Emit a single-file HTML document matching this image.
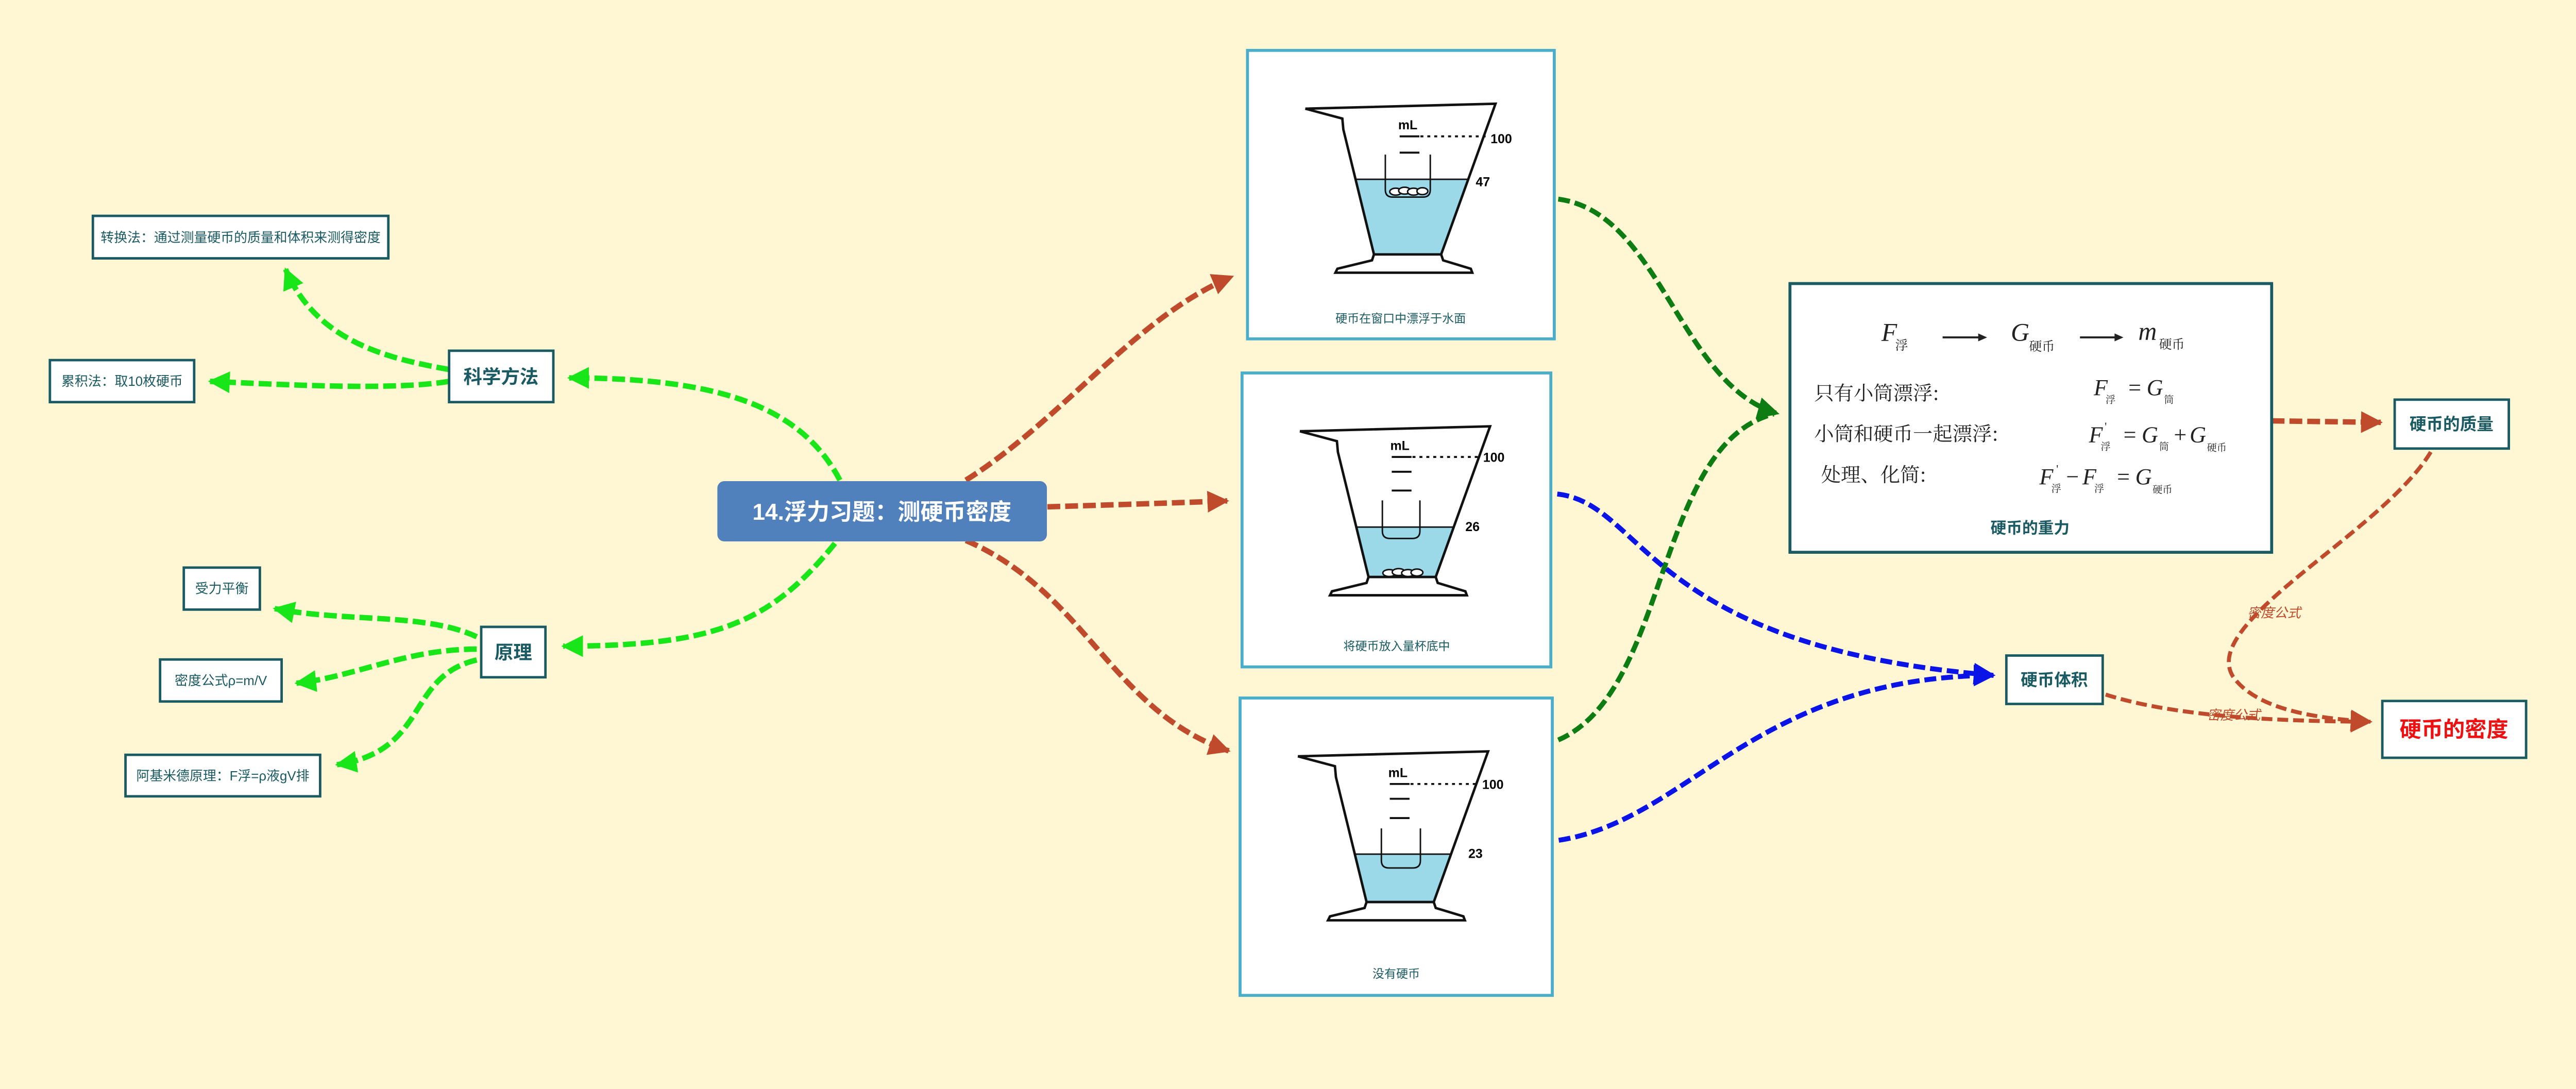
<!DOCTYPE html>
<html><head><meta charset="utf-8"><style>
html,body{margin:0;padding:0;background:#fff7d3;overflow:hidden;width:100%;height:100%;}
svg{display:block;width:100vw;height:calc(100vw * 2114 / 5214);}
.t{font-family:"Liberation Sans","Noto Sans CJK SC",sans-serif;}
</style></head><body>
<svg viewBox="0 0 5214 2114" preserveAspectRatio="none" xmlns="http://www.w3.org/2000/svg">
<defs>
<marker id="ag" markerUnits="userSpaceOnUse" markerWidth="50" markerHeight="50" refX="40" refY="22" orient="auto"><path d="M0,0 L44,22 L0,44 Z" fill="#19e619"/></marker>
<marker id="ar" markerUnits="userSpaceOnUse" markerWidth="50" markerHeight="50" refX="40" refY="22" orient="auto"><path d="M0,0 L44,22 L0,44 Z" fill="#c04a2c"/></marker>
<marker id="ad" markerUnits="userSpaceOnUse" markerWidth="50" markerHeight="50" refX="40" refY="22" orient="auto"><path d="M0,0 L44,22 L0,44 Z" fill="#0d7c12"/></marker>
<marker id="ab" markerUnits="userSpaceOnUse" markerWidth="50" markerHeight="50" refX="40" refY="22" orient="auto"><path d="M0,0 L44,22 L0,44 Z" fill="#0a14e6"/></marker>
</defs>
<rect width="5214" height="2114" fill="#fff7d3"/>

<g fill="none" stroke="#19e619" stroke-width="11" stroke-dasharray="26,10">
<path d="M1700,972 C1620,820 1450,765 1152,765" marker-end="url(#ag)"/>
<path d="M909,748 C780,725 640,690 578,545" marker-end="url(#ag)"/>
<path d="M909,772 C800,790 600,780 425,772" marker-end="url(#ag)"/>
<path d="M1690,1100 C1560,1260 1450,1308 1140,1308" marker-end="url(#ag)"/>
<path d="M965,1289 C860,1240 700,1260 556,1232" marker-end="url(#ag)"/>
<path d="M965,1314 C820,1314 720,1370 600,1383" marker-end="url(#ag)"/>
<path d="M965,1336 C820,1370 870,1520 682,1548" marker-end="url(#ag)"/>
</g>
<g fill="none" stroke="#c04a2c" stroke-width="11" stroke-dasharray="26,10">
<path d="M1955,972 C2150,850 2300,640 2494,560" marker-end="url(#ar)"/>
<path d="M2120,1026 C2250,1022 2380,1018 2484,1014" marker-end="url(#ar)"/>
<path d="M1955,1094 C2200,1200 2250,1440 2487,1520" marker-end="url(#ar)"/>
<path d="M4598,852 L4819,855" marker-end="url(#ar)"/>
</g>
<g fill="none" stroke="#c04a2c" stroke-width="8" stroke-dasharray="22,10">
<path d="M4920,915 C4820,1080 4450,1260 4520,1370 C4570,1440 4700,1455 4798,1461" marker-end="url(#ar)"/>
<path d="M4262,1406 C4400,1450 4600,1460 4798,1461" marker-end="url(#ar)"/>
</g>
<g fill="none" stroke="#0d7c12" stroke-width="10" stroke-dasharray="24,10">
<path d="M3154,403 C3360,430 3400,780 3598,837" marker-end="url(#ad)"/>
<path d="M3154,1498 C3380,1400 3350,900 3590,838"/>
</g>
<g fill="none" stroke="#0a14e6" stroke-width="10" stroke-dasharray="24,10">
<path d="M3152,1000 C3330,1020 3330,1310 4035,1367" marker-end="url(#ab)"/>
<path d="M3155,1701 C3420,1660 3550,1370 4035,1367" marker-end="url(#ab)"/>
</g>

<g class="t" fill="#1a5a63">
<rect x="188" y="437" width="598" height="86" fill="#fff" stroke="#1a5a63" stroke-width="5"/>
<text x="487" y="490" font-size="27" text-anchor="middle">转换法：通过测量硬币的质量和体积来测得密度</text>
<rect x="101" y="729" width="292" height="85" fill="#fff" stroke="#1a5a63" stroke-width="5"/>
<text x="247" y="781" font-size="27" text-anchor="middle">累积法：取10枚硬币</text>
<rect x="909" y="710" width="211" height="104" fill="#fff" stroke="#1a5a63" stroke-width="5"/>
<text x="1014" y="776" font-size="38" font-weight="bold" text-anchor="middle">科学方法</text>
<rect x="1452" y="974" width="667" height="122" rx="14" fill="#5081bd"/>
<text x="1785" y="1052" font-size="46" font-weight="bold" fill="#fff" text-anchor="middle">14.浮力习题：测硬币密度</text>
<rect x="372" y="1149" width="154" height="85" fill="#fff" stroke="#1a5a63" stroke-width="5"/>
<text x="449" y="1201" font-size="27" text-anchor="middle">受力平衡</text>
<rect x="974" y="1269" width="130" height="102" fill="#fff" stroke="#1a5a63" stroke-width="5"/>
<text x="1039" y="1334" font-size="38" font-weight="bold" text-anchor="middle">原理</text>
<rect x="324" y="1335" width="246" height="85" fill="#fff" stroke="#1a5a63" stroke-width="5"/>
<text x="447" y="1387" font-size="27" text-anchor="middle">密度公式ρ=m/V</text>
<rect x="254" y="1528" width="394" height="84" fill="#fff" stroke="#1a5a63" stroke-width="5"/>
<text x="451" y="1580" font-size="27" text-anchor="middle">阿基米德原理：F浮=ρ液gV排</text>
</g>

<g transform="translate(2525,102)">
<rect x="0" y="0" width="621" height="584" fill="#fff" stroke="#4aaecb" stroke-width="6"/>
<polygon points="219,261 448,261 392,413 256,413" fill="#9bd8e8"/>
<path d="M117,118 L502,108 L392,413 M117,118 L192,138 L194,160 L256,413" fill="none" stroke="#111" stroke-width="5"/>
<path d="M256,413 L392,413 L396,425 L452,442 L455,450 L178,450 L182,442 L252,425 Z" fill="#fff" stroke="#111" stroke-width="5"/>
<line x1="219" y1="261" x2="448" y2="261" stroke="#111" stroke-width="3"/>
<path d="M279,211 L279,282 Q279,297 294,297 L355,297 Q370,297 370,282 L370,211" fill="none" stroke="#111" stroke-width="3"/>
<g fill="#fff" stroke="#111" stroke-width="3"><ellipse cx="300" cy="286" rx="12" ry="7"/><ellipse cx="318" cy="284" rx="12" ry="7"/><ellipse cx="336" cy="286" rx="12" ry="7"/><ellipse cx="354" cy="285" rx="11" ry="7"/></g>
<text x="305" y="160" font-family="Liberation Sans" font-weight="bold" font-size="26">mL</text>
<line x1="308" y1="174" x2="348" y2="174" stroke="#111" stroke-width="4"/>
<line x1="350" y1="174" x2="482" y2="174" stroke="#111" stroke-width="4" stroke-dasharray="6,8"/>
<line x1="308" y1="207" x2="348" y2="207" stroke="#111" stroke-width="4"/>
<text x="492" y="188" font-family="Liberation Sans" font-weight="bold" font-size="26">100</text>
<text x="462" y="275" font-family="Liberation Sans" font-weight="bold" font-size="26">47</text>
<text x="310" y="551" class="t" font-size="24" fill="#1a5a63" text-anchor="middle">硬币在窗口中漂浮于水面</text>
</g>

<g transform="translate(2514,755)">
<rect x="0" y="0" width="625" height="595" fill="#fff" stroke="#4aaecb" stroke-width="6"/>
<polygon points="231,312 430,312 392,413 256,413" fill="#9bd8e8"/>
<path d="M117,118 L502,108 L392,413 M117,118 L192,138 L194,160 L256,413" fill="none" stroke="#111" stroke-width="5"/>
<path d="M256,413 L392,413 L396,425 L452,442 L455,450 L178,450 L182,442 L252,425 Z" fill="#fff" stroke="#111" stroke-width="5"/>
<line x1="231" y1="312" x2="430" y2="312" stroke="#111" stroke-width="3"/>
<path d="M284,258 L284,320 Q284,335 299,335 L345,335 Q360,335 360,320 L360,258" fill="none" stroke="#111" stroke-width="3"/>
<g fill="#fff" stroke="#111" stroke-width="3"><ellipse cx="298" cy="405" rx="13" ry="7"/><ellipse cx="317" cy="403" rx="13" ry="7"/><ellipse cx="336" cy="405" rx="13" ry="7"/><ellipse cx="354" cy="404" rx="12" ry="7"/></g>
<text x="300" y="156" font-family="Liberation Sans" font-weight="bold" font-size="26">mL</text>
<line x1="303" y1="170" x2="343" y2="170" stroke="#111" stroke-width="4"/>
<line x1="345" y1="170" x2="480" y2="170" stroke="#111" stroke-width="4" stroke-dasharray="6,8"/>
<line x1="303" y1="200" x2="343" y2="200" stroke="#111" stroke-width="4"/>
<line x1="303" y1="238" x2="343" y2="238" stroke="#111" stroke-width="4"/>
<text x="488" y="180" font-family="Liberation Sans" font-weight="bold" font-size="26">100</text>
<text x="452" y="320" font-family="Liberation Sans" font-weight="bold" font-size="26">26</text>
<text x="313" y="561" class="t" font-size="24" fill="#1a5a63" text-anchor="middle">将硬币放入量杯底中</text>
</g>

<g transform="translate(2510,1413)">
<rect x="0" y="0" width="632" height="602" fill="#fff" stroke="#4aaecb" stroke-width="6"/>
<polygon points="232,316 428,316 392,413 256,413" fill="#9bd8e8"/>
<path d="M117,118 L502,108 L392,413 M117,118 L192,138 L194,160 L256,413" fill="none" stroke="#111" stroke-width="5"/>
<path d="M256,413 L392,413 L396,425 L452,442 L455,450 L178,450 L182,442 L252,425 Z" fill="#fff" stroke="#111" stroke-width="5"/>
<line x1="232" y1="316" x2="428" y2="316" stroke="#111" stroke-width="3"/>
<path d="M286,264 L286,329 Q286,344 301,344 L350,344 Q365,344 365,329 L365,264" fill="none" stroke="#111" stroke-width="3"/>
<text x="300" y="160" font-family="Liberation Sans" font-weight="bold" font-size="26">mL</text>
<line x1="303" y1="174" x2="343" y2="174" stroke="#111" stroke-width="4"/>
<line x1="345" y1="174" x2="480" y2="174" stroke="#111" stroke-width="4" stroke-dasharray="6,8"/>
<line x1="303" y1="204" x2="343" y2="204" stroke="#111" stroke-width="4"/>
<line x1="303" y1="243" x2="343" y2="243" stroke="#111" stroke-width="4"/>
<text x="490" y="184" font-family="Liberation Sans" font-weight="bold" font-size="26">100</text>
<text x="462" y="324" font-family="Liberation Sans" font-weight="bold" font-size="26">23</text>
<text x="316" y="566" class="t" font-size="24" fill="#1a5a63" text-anchor="middle">没有硬币</text>
</g>

<rect x="3623" y="574" width="975" height="544" fill="#fff" stroke="#1a5a63" stroke-width="6"/>
<g fill="#222">
<text x="3808" y="690" font-family="Liberation Serif, serif" font-style="italic" font-size="52">F</text>
<text x="3836" y="708" font-family="Noto Serif CJK SC, serif" font-size="26">浮</text>
<line x1="3932" y1="683" x2="4010" y2="683" stroke="#222" stroke-width="4"/><path d="M4004,675 L4022,683 L4004,691 Z" fill="#222"/>
<text x="4070" y="690" font-family="Liberation Serif, serif" font-style="italic" font-size="52">G</text>
<text x="4107" y="710" font-family="Noto Serif CJK SC, serif" font-size="26">硬币</text>
<line x1="4210" y1="683" x2="4285" y2="683" stroke="#222" stroke-width="4"/><path d="M4280,675 L4298,683 L4280,691 Z" fill="#222"/>
<text x="4328" y="688" font-family="Liberation Serif, serif" font-style="italic" font-size="52">m</text>
<text x="4370" y="706" font-family="Noto Serif CJK SC, serif" font-size="26">硬币</text>
<text x="3672" y="810" font-family="Noto Serif CJK SC, serif" font-size="40">只有小筒漂浮:</text>
<text x="3672" y="892" font-family="Noto Serif CJK SC, serif" font-size="40">小筒和硬币一起漂浮:</text>
<text x="3686" y="975" font-family="Noto Serif CJK SC, serif" font-size="40">处理、化简:</text>
<g font-family="Liberation Serif, serif" font-size="46">
<text x="4238" y="800" font-style="italic">F</text><text x="4262" y="816" font-family="Noto Serif CJK SC, serif" font-size="20">浮</text>
<text x="4308" y="800">=</text><text x="4345" y="800" font-style="italic">G</text><text x="4380" y="816" font-family="Noto Serif CJK SC, serif" font-size="20">筒</text>
<text x="4228" y="895" font-style="italic">F</text><text x="4252" y="911" font-family="Noto Serif CJK SC, serif" font-size="20">浮</text><text x="4260" y="872" font-size="24">'</text>
<text x="4298" y="895">=</text><text x="4335" y="895" font-style="italic">G</text><text x="4370" y="911" font-family="Noto Serif CJK SC, serif" font-size="20">筒</text>
<text x="4400" y="895">+</text><text x="4432" y="895" font-style="italic">G</text><text x="4467" y="913" font-family="Noto Serif CJK SC, serif" font-size="20">硬币</text>
<text x="4128" y="980" font-style="italic">F</text><text x="4152" y="996" font-family="Noto Serif CJK SC, serif" font-size="20">浮</text><text x="4162" y="958" font-size="24">'</text>
<text x="4182" y="980">−</text><text x="4215" y="980" font-style="italic">F</text><text x="4239" y="996" font-family="Noto Serif CJK SC, serif" font-size="20">浮</text>
<text x="4285" y="980">=</text><text x="4322" y="980" font-style="italic">G</text><text x="4357" y="998" font-family="Noto Serif CJK SC, serif" font-size="20">硬币</text>
</g>
</g>
<text x="4109" y="1080" class="t" font-size="32" font-weight="bold" fill="#1a5a63" text-anchor="middle">硬币的重力</text>

<g class="t">
<rect x="4847" y="809" width="231" height="99" fill="#fff" stroke="#1a5a63" stroke-width="5"/>
<text x="4962" y="870" font-size="34" font-weight="bold" fill="#1a5a63" text-anchor="middle">硬币的质量</text>
<rect x="4061" y="1327" width="195" height="98" fill="#fff" stroke="#1a5a63" stroke-width="5"/>
<text x="4158" y="1388" font-size="34" font-weight="bold" fill="#1a5a63" text-anchor="middle">硬币体积</text>
<rect x="4822" y="1419" width="291" height="115" fill="#fff" stroke="#1a5a63" stroke-width="5"/>
<text x="4967" y="1492" font-size="44" font-weight="bold" fill="#ee1111" text-anchor="middle">硬币的密度</text>
<text x="4603" y="1250" font-size="27" font-style="italic" fill="#c04a2c" text-anchor="middle">密度公式</text>
<text x="4521" y="1457" font-size="27" font-style="italic" fill="#c04a2c" text-anchor="middle">密度公式</text>
</g>
</svg>
</body></html>
